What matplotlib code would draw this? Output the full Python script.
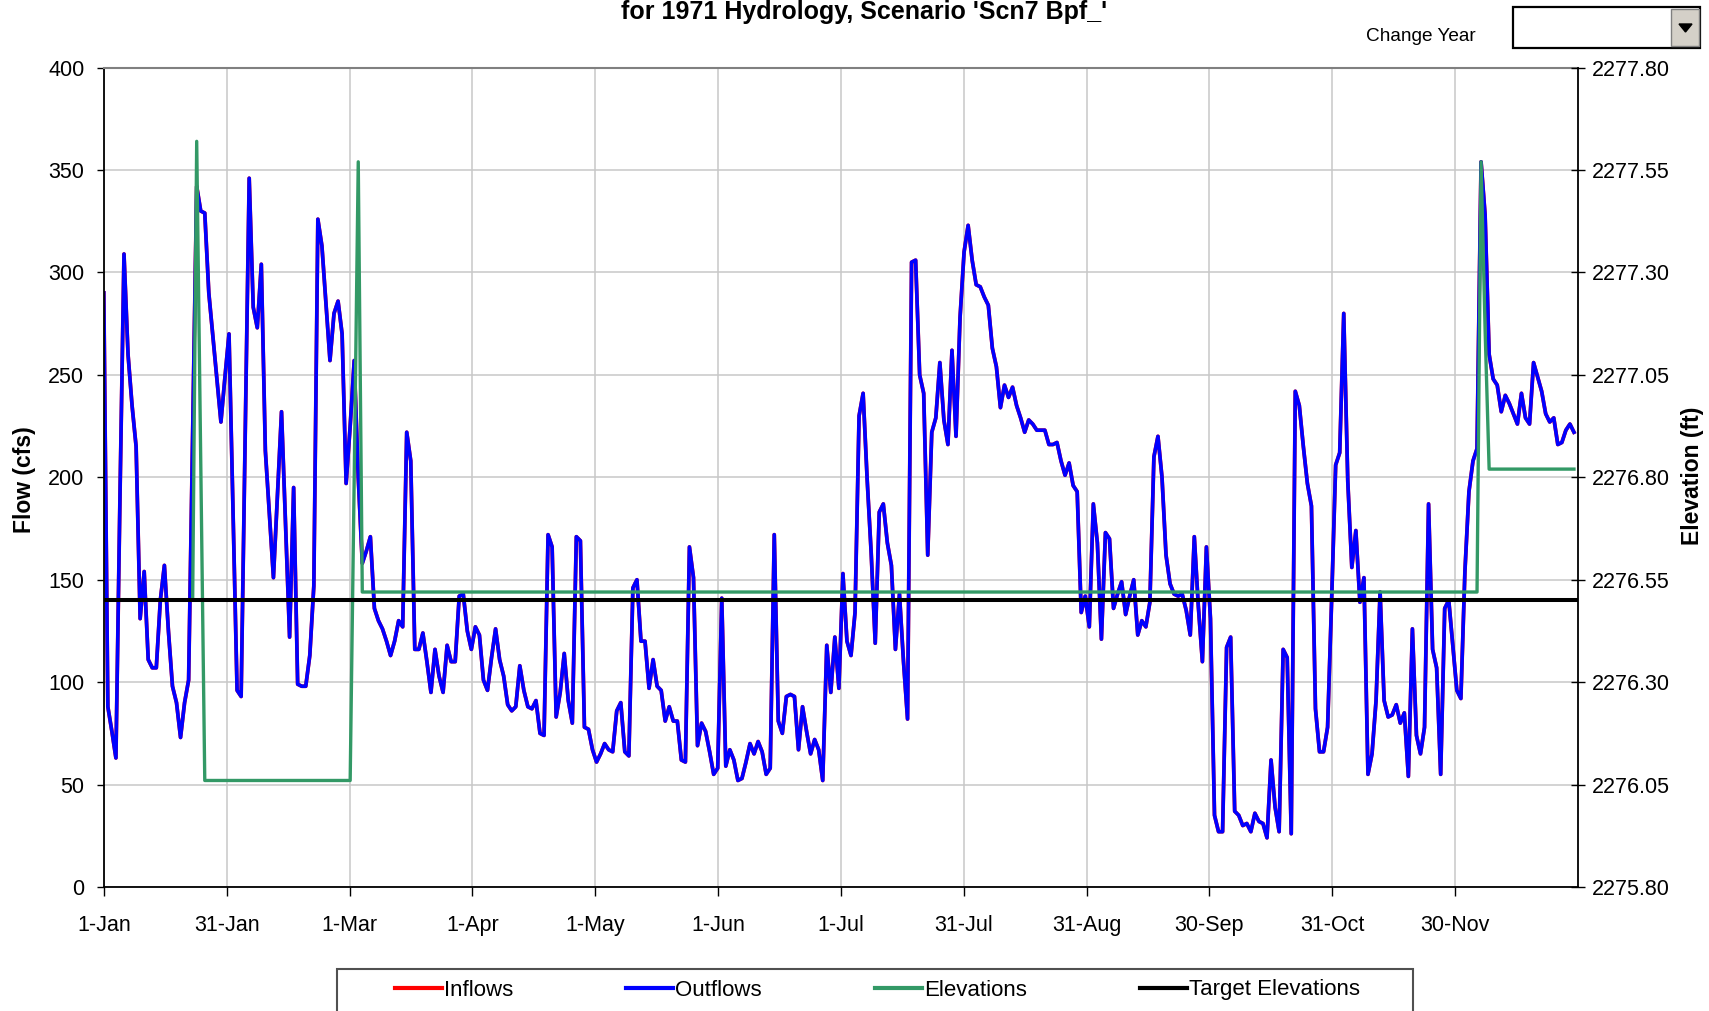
import numpy as np
import matplotlib.pyplot as plt
from matplotlib.patches import Rectangle, Polygon
from matplotlib.lines import Line2D
from matplotlib.ticker import FormatStrFormatter

plt.rcParams['font.family'] = ['Liberation Sans', 'DejaVu Sans']

# daily outflows (cfs), 1-Jan .. 31-Dec
outflows = [
    290, 88, 76, 63, 190, 309, 260, 235, 215, 131, 154, 111, 107, 107, 140, 157,
    125, 98, 90, 73, 90, 101, 220, 342, 330, 329, 290, 269, 248, 227, 249, 270,
    183, 96, 93, 220, 346, 283, 273, 304, 213, 182, 151, 192, 232, 177, 122, 195,
    99, 98, 98, 113, 147, 326, 313, 285, 257, 280, 286, 270, 197, 225, 257, 200,
    158, 164, 171, 136, 130, 126, 120, 113, 120, 130, 127, 222, 208, 116, 116, 124,
    110, 95, 116, 103, 95, 118, 110, 110, 142, 143, 125, 116, 127, 123, 101, 96,
    112, 126, 111, 103, 89, 86, 88, 108, 96, 88, 87, 91, 75, 74, 172, 166,
    83, 95, 114, 91, 80, 171, 169, 78, 77, 67, 61, 65, 70, 67, 66, 86,
    90, 66, 64, 146, 150, 120, 120, 97, 111, 98, 96, 81, 88, 81, 81, 62,
    61, 166, 151, 69, 80, 76, 66, 55, 58, 141, 59, 67, 62, 52, 53, 61,
    70, 65, 71, 66, 55, 58, 172, 81, 75, 93, 94, 93, 67, 88, 76, 65,
    72, 67, 52, 118, 95, 122, 97, 153, 120, 113, 134, 230, 241, 199, 163, 119,
    183, 187, 168, 157, 116, 143, 110, 82, 305, 306, 250, 241, 162, 222, 229, 256,
    228, 216, 262, 220, 278, 310, 323, 306, 294, 293, 288, 284, 263, 254, 234, 245,
    239, 244, 235, 229, 222, 228, 226, 223, 223, 223, 216, 216, 217, 208, 201, 207,
    196, 193, 134, 142, 127, 187, 168, 121, 173, 170, 136, 143, 149, 133, 142, 150,
    123, 130, 127, 139, 210, 220, 200, 162, 148, 143, 142, 143, 135, 123, 171, 137,
    110, 166, 131, 35, 27, 27, 117, 122, 37, 35, 30, 31, 27, 36, 32, 31,
    24, 62, 39, 27, 116, 112, 26, 242, 235, 215, 197, 186, 87, 66, 66, 78,
    140, 206, 212, 280, 198, 156, 174, 139, 151, 55, 65, 91, 144, 91, 83, 84,
    89, 80, 85, 54, 126, 74, 65, 78, 187, 116, 107, 55, 136, 140, 118, 96,
    92, 154, 193, 208, 214, 354, 328, 260, 248, 245, 232, 240, 236, 231, 226, 241,
    229, 226, 256, 249, 242, 231, 227, 229, 216, 217, 223, 226, 222,
]
# inflows sit exactly under the outflows on the chart
inflows = list(outflows)

# reservoir elevation (ft): day of year where it changes, and value there
elev_days = [0, 22, 23, 24, 25, 61, 62, 63, 64, 340, 341, 342, 343, 364]
elev_values = [2276.50, 2276.50, 2277.62, 2276.84, 2276.06, 2276.06, 2276.80,
               2277.57, 2276.52, 2276.52, 2277.57, 2277.16, 2276.82, 2276.82]
target_elev = 2276.50

tick_labels = ['1-Jan', '31-Jan', '1-Mar', '1-Apr', '1-May', '1-Jun',
               '1-Jul', '31-Jul', '31-Aug', '30-Sep', '31-Oct', '30-Nov']

W, H = 1709, 1011
fig = plt.figure(figsize=(W / 100, H / 100), dpi=100)
ax = fig.add_axes([103.8 / W, 1 - 887 / H, (1578 - 103.8) / W, (887 - 67.6) / H])

days = np.arange(len(outflows))
l_in, = ax.plot(days, inflows, color='#FF0000', lw=2.7)
l_out, = ax.plot(days, outflows, color='#0000FF', lw=2.6)

ax.set_xlim(0, 365)
ax.set_ylim(0, 400)
ax.set_yticks(range(0, 401, 50))
ax.set_xticks([i * 365 / 12 for i in range(12)])
ax.set_xticklabels(tick_labels)
ax.grid(True, color='#c8c8c8', lw=1.1)
ax.set_axisbelow(True)
ax.tick_params(axis='y', direction='out', length=5, width=1, labelsize=15.5, pad=9)
ax.tick_params(axis='x', direction='out', length=6.5, width=1, labelsize=15.5, pad=14)
for s in ['left', 'bottom']:
    ax.spines[s].set_color('black')
    ax.spines[s].set_linewidth(1.3)
ax.spines['top'].set_color('#808080')
ax.spines['top'].set_linewidth(1.5)
ax.spines['right'].set_visible(False)

ax2 = ax.twinx()
l_el, = ax2.plot(elev_days, elev_values, color='#339966', lw=2.4)
l_tg = ax2.axhline(target_elev, color='black', lw=2.9)
ax2.set_ylim(2275.80, 2277.80)
ax2.set_yticks(np.arange(2275.80, 2277.81, 0.25))
ax2.yaxis.set_major_formatter(FormatStrFormatter('%.2f'))
ax2.tick_params(axis='y', direction='inout', length=10, width=1, labelsize=15.5, pad=5)
for s in ['left', 'bottom', 'top']:
    ax2.spines[s].set_visible(False)
ax2.spines['right'].set_color('black')
ax2.spines['right'].set_linewidth(1.3)

fig.text(24 / W, 1 - 480 / H, 'Flow (cfs)', rotation=90, fontsize=16.5,
         fontweight='bold', ha='center', va='center')
fig.text(1693 / W, 1 - 476 / H, 'Elevation (ft)', rotation=90, fontsize=16.5,
         fontweight='bold', ha='center', va='center')

# title (first line is off the top of the image)
fig.text(864 / W, 1 - 19 / H, "for 1971 Hydrology, Scenario 'Scn7 Bpf_'",
         fontsize=18, fontweight='bold', ha='center', va='baseline')

# "Change Year" drop-down
fig.text(1421 / W, 1 - 41 / H, 'Change Year', fontsize=13.7, ha='center', va='baseline')
fig.patches.append(Rectangle((1513 / W, 1 - 48.3 / H), 187 / W, 41.6 / H,
                             transform=fig.transFigure, facecolor='white',
                             edgecolor='black', lw=1.6))
fig.patches.append(Rectangle((1671 / W, 1 - 46 / H), 28 / W, 37 / H,
                             transform=fig.transFigure, facecolor='#D4D0C8',
                             edgecolor='#808080', lw=1))
fig.patches.append(Polygon([(1679 / W, 1 - 24 / H), (1692 / W, 1 - 24 / H),
                            (1685.5 / W, 1 - 32 / H)], closed=True,
                           transform=fig.transFigure, facecolor='black', edgecolor='black'))

# legend box runs off the bottom of the image
fig.patches.append(Rectangle((337 / W, -0.02), 1076 / W, 0.02 + 1 - 969 / H,
                             transform=fig.transFigure, facecolor='white',
                             edgecolor='#505050', lw=1.5))
handles = [Line2D([], [], color=c, lw=3) for c in ['#FF0000', '#0000FF', '#339966', 'black']]
fig.legend(handles, ['Inflows', 'Outflows', 'Elevations', 'Target Elevations'],
           loc='center left', bbox_to_anchor=(395 / W, 1 - 990 / H), ncol=4,
           frameon=False, fontsize=16, handlelength=2.1, handletextpad=0.1,
           columnspacing=5.1, borderpad=0, borderaxespad=0)

fig.savefig('out.png', dpi=100)
